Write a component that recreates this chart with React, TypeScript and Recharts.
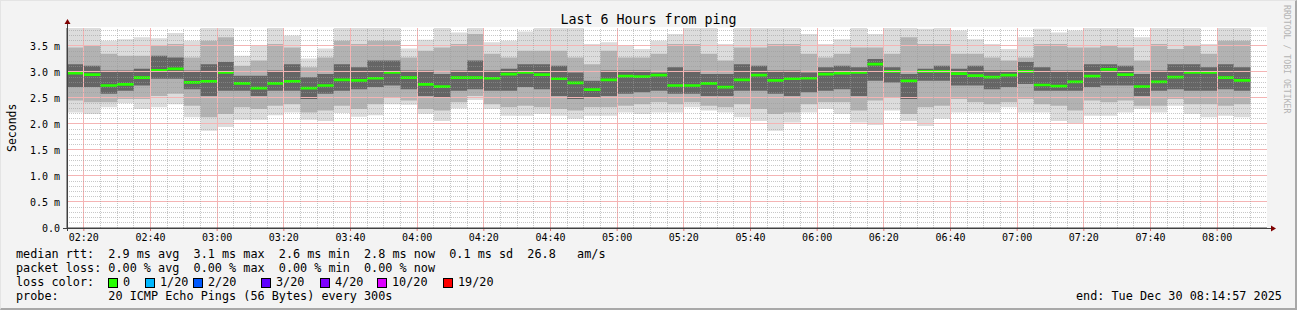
import React from 'react';
import { ComposedChart, Area, XAxis, YAxis, ReferenceLine } from 'recharts';

// ---- time layout (minutes after midnight) ----
const FIRST_SLOT = 135; // 02:15, first 5-minute step
const SLOT = 5;
const X_START = 134.95; // 02:14:57
const X_END = 494.95; // 08:14:57
const Y_MAX = 3.846; // ms

// ---- per-step values, ms (71 steps of 5 minutes) ----
const maxPing = [
  3.90, 3.90, 3.60, 3.63, 3.67, 3.65, 3.75, 3.60, 3.90, 3.90,
  3.31, 3.52, 3.90, 3.70, 3.26, 3.45, 3.90, 3.90, 3.90, 3.90,
  3.45, 3.62, 3.90, 3.76, 3.90, 3.57, 3.60, 3.78, 3.90, 3.90,
  3.90, 3.54, 3.57, 3.51, 3.44, 3.60, 3.73, 3.90, 3.90, 3.54,
  3.90, 3.90, 3.90, 3.90, 3.73, 3.54, 3.63, 3.90, 3.73, 3.90,
  3.90, 3.83, 3.90, 3.80, 3.63, 3.54, 3.44, 3.67, 3.83, 3.76,
  3.80, 3.90, 3.90, 3.90, 3.67, 3.90, 3.90, 3.90, 3.54, 3.90,
  3.90,
];
const hiMid = [
  3.47, 3.51, 3.35, 3.31, 3.31, 3.51, 3.54, 3.28, 3.60, 3.67,
  3.12, 3.22, 3.54, 3.47, 3.09, 3.28, 3.60, 3.54, 3.60, 3.60,
  3.28, 3.41, 3.47, 3.54, 3.73, 3.35, 3.28, 3.41, 3.41, 3.41,
  3.28, 3.15, 3.41, 3.28, 3.28, 3.35, 3.54, 3.54, 3.35, 3.22,
  3.47, 3.47, 3.54, 3.54, 3.35, 3.28, 3.35, 3.47, 3.47, 3.35,
  3.67, 3.54, 3.54, 3.35, 3.35, 3.28, 3.22, 3.28, 3.54, 3.54,
  3.47, 3.47, 3.51, 3.47, 3.22, 3.54, 3.44, 3.51, 3.35, 3.60,
  3.60,
];
const hiDark = [
  3.15, 3.12, 3.03, 3.03, 3.06, 3.31, 3.28, 3.03, 3.15, 3.19,
  2.93, 2.93, 3.03, 3.15, 2.90, 2.96, 3.15, 3.09, 3.22, 3.22,
  3.03, 3.03, 2.96, 3.03, 3.22, 3.03, 3.06, 3.15, 3.15, 3.12,
  2.99, 2.83, 3.03, 3.03, 3.03, 2.99, 3.09, 3.03, 2.96, 2.96,
  3.15, 3.12, 3.03, 3.03, 2.99, 3.09, 3.12, 3.09, 3.25, 3.09,
  2.96, 3.06, 3.12, 3.06, 3.12, 3.03, 3.03, 3.19, 3.09, 3.03,
  3.03, 3.15, 3.15, 3.12, 2.96, 3.03, 3.15, 3.15, 3.09, 3.15,
  3.09,
];
const medianRtt = [
  2.98, 2.95, 2.74, 2.76, 2.89, 3.03, 3.06, 2.80, 2.82, 2.99,
  2.78, 2.69, 2.78, 2.82, 2.69, 2.74, 2.85, 2.84, 2.88, 2.99,
  2.89, 2.76, 2.72, 2.89, 2.89, 2.88, 2.96, 2.99, 2.95, 2.87,
  2.79, 2.66, 2.85, 2.92, 2.91, 2.94, 2.74, 2.74, 2.78, 2.71,
  2.85, 2.94, 2.84, 2.87, 2.88, 2.96, 2.98, 2.99, 3.15, 3.01,
  2.83, 3.01, 3.01, 2.97, 2.93, 2.90, 2.94, 3.01, 2.75, 2.73,
  2.81, 2.92, 3.05, 2.95, 2.72, 2.81, 2.90, 2.99, 2.99, 2.89,
  2.84,
];
const loDark = [
  2.71, 2.71, 2.58, 2.64, 2.74, 2.87, 2.87, 2.67, 2.54, 2.64,
  2.64, 2.54, 2.64, 2.64, 2.48, 2.58, 2.64, 2.67, 2.71, 2.74,
  2.67, 2.54, 2.51, 2.64, 2.67, 2.64, 2.64, 2.71, 2.67, 2.54,
  2.48, 2.51, 2.54, 2.58, 2.61, 2.64, 2.58, 2.58, 2.54, 2.54,
  2.64, 2.64, 2.58, 2.54, 2.61, 2.64, 2.67, 2.54, 2.83, 2.80,
  2.48, 2.83, 2.83, 2.74, 2.74, 2.67, 2.71, 2.77, 2.64, 2.64,
  2.64, 2.71, 2.74, 2.74, 2.54, 2.64, 2.67, 2.64, 2.64, 2.67,
  2.64,
];
const loMid = [
  2.45, 2.42, 2.42, 2.48, 2.48, 2.54, 2.58, 2.35, 2.13, 2.19,
  2.32, 2.29, 2.35, 2.38, 2.22, 2.26, 2.35, 2.29, 2.38, 2.51,
  2.45, 2.29, 2.26, 2.42, 2.54, 2.38, 2.32, 2.35, 2.32, 2.29,
  2.26, 2.32, 2.32, 2.35, 2.38, 2.42, 2.38, 2.42, 2.35, 2.32,
  2.38, 2.29, 2.19, 2.22, 2.38, 2.42, 2.42, 2.26, 2.45, 2.51,
  2.19, 2.32, 2.35, 2.48, 2.42, 2.38, 2.42, 2.48, 2.38, 2.35,
  2.26, 2.45, 2.42, 2.45, 2.35, 2.35, 2.48, 2.38, 2.38, 2.35,
  2.38,
];
const minPing = [
  2.22, 2.19, 2.32, 2.40, 2.29, 2.32, 2.38, 2.13, 1.87, 1.94,
  2.08, 2.08, 2.17, 2.22, 2.08, 2.06, 2.21, 2.14, 2.17, 2.38,
  2.37, 2.19, 2.06, 2.30, 2.46, 2.29, 2.16, 2.16, 2.19, 2.16,
  2.10, 2.16, 2.16, 2.22, 2.19, 2.22, 2.22, 2.32, 2.26, 2.22,
  2.13, 2.06, 1.87, 2.03, 2.22, 2.29, 2.19, 2.03, 1.98, 2.26,
  2.06, 1.96, 2.10, 2.22, 2.22, 2.22, 2.32, 2.22, 2.22, 2.06,
  2.00, 2.16, 2.16, 2.22, 2.29, 2.22, 2.35, 2.19, 2.13, 2.16,
  2.13,
];

// ---- axis ticks ----
const xTicks = [140, 160, 180, 200, 220, 240, 260, 280, 300, 320, 340, 360, 380, 400, 420, 440, 460, 480];
const xTickLabels = ['02:20', '02:40', '03:00', '03:20', '03:40', '04:00', '04:20', '04:40', '05:00', '05:20', '05:40', '06:00', '06:20', '06:40', '07:00', '07:20', '07:40', '08:00'];
const yTicks = [0, 0.5, 1.0, 1.5, 2.0, 2.5, 3.0, 3.5];
const yTickLabels = ['0.0', '0.5 m', '1.0 m', '1.5 m', '2.0 m', '2.5 m', '3.0 m', '3.5 m'];

// ---- legend ----
const titleText = 'Last 6 Hours from ping';
const legendRtt = 'median rtt:  2.9 ms avg  3.1 ms max  2.6 ms min  2.8 ms now  0.1 ms sd  26.8   am/s';
const legendLoss = 'packet loss: 0.00 % avg  0.00 % max  0.00 % min  0.00 % now';
const lossLabels = ['0', '1/20', '2/20', '3/20', '4/20', '10/20', '19/20'];
const lossColors = ['#26ff00', '#00b8ff', '#0059ff', '#5e00ff', '#7e00ff', '#dd00ff', '#ff0000'];
const lossBoxX = [108, 145, 193, 261, 320, 377, 443];
const probeText = 'probe:       20 ICMP Echo Pings (56 Bytes) every 300s';
const endText = 'end: Tue Dec 30 08:14:57 2025';

const MEDIAN_HALF = 0.026;
const mono = '"DejaVu Sans Mono", monospace';

function buildRows() {
  const rows: any[] = [];
  const n = medianRtt.length;
  for (let i = 0; i <= n; i++) {
    const k = Math.min(i, n - 1);
    rows.push({
      t: FIRST_SLOT + SLOT * i,
      outer: [minPing[k], maxPing[k]],
      mid: [loMid[k], hiMid[k]],
      core: [loDark[k], hiDark[k]],
      med: [medianRtt[k] - MEDIAN_HALF, medianRtt[k] + MEDIAN_HALF],
    });
  }
  return rows;
}

const minorY: number[] = [];
for (let i = 1; i <= 38; i++) if (i % 5 !== 0) minorY.push(i / 10);
const minorX: number[] = [];
for (let m = 140; m <= 490; m += 5) if (m % 20 !== 0) minorX.push(m);
const majorY = yTicks.slice(1);

const fmtX = (v: number) => {
  const i = xTicks.indexOf(v);
  return i >= 0 ? xTickLabels[i] : '';
};
const fmtY = (v: number) => {
  const i = yTicks.indexOf(v);
  return i >= 0 ? yTickLabels[i] : '';
};

const minorLineProps: any = {
  stroke: '#9a9a9a',
  strokeOpacity: 0.55,
  strokeDasharray: '1 1',
  strokeWidth: 1,
  shapeRendering: 'crispEdges',
  ifOverflow: 'hidden',
};
const majorLineProps: any = {
  stroke: '#f4b4b4',
  strokeOpacity: 1,
  strokeWidth: 1,
  shapeRendering: 'crispEdges',
  ifOverflow: 'hidden',
};

export default function App() {
  const rows = buildRows();
  const textStyle: React.CSSProperties = {
    position: 'absolute',
    fontFamily: mono,
    fontSize: 11.8,
    lineHeight: '14px',
    whiteSpace: 'pre',
    color: '#000',
  };
  return (
    <div
      style={{
        position: 'absolute',
        left: 0,
        top: 0,
        width: 1297,
        height: 310,
        background: '#f3f3f3',
        overflow: 'hidden',
        boxSizing: 'border-box',
        borderTop: '1px solid #e4e4e4',
        borderLeft: '1px solid #e4e4e4',
        borderRight: '2px solid #a8a8a8',
        borderBottom: '2px solid #a8a8a8',
      }}
    >
      {/* plot canvas */}
      <div style={{ position: 'absolute', left: 66, top: 26, width: 1200, height: 202, background: '#ffffff' }} />
      <div style={{ position: 'absolute', left: -1, top: -1 }}>
        <ComposedChart
          width={1297}
          height={310}
          data={rows}
          margin={{ top: 28, right: 30, bottom: 62, left: 0 }}
        >
          <XAxis
            type="number"
            dataKey="t"
            domain={[X_START, X_END]}
            allowDataOverflow
            ticks={xTicks}
            interval={0}
            tickFormatter={fmtX}
            height={20}
            tickSize={3}
            tickMargin={3}
            tickLine={{ stroke: '#e07070' }}
            axisLine={{ stroke: '#404040' }}
            tick={{ fontSize: 10, fill: '#000', fontFamily: mono }}
          />
          <YAxis
            type="number"
            domain={[0, Y_MAX]}
            allowDataOverflow
            ticks={yTicks}
            interval={0}
            tickFormatter={fmtY}
            width={67}
            tickSize={0}
            tickMargin={7}
            tickLine={false}
            axisLine={{ stroke: '#404040' }}
            tick={{ fontSize: 10, fill: '#000', fontFamily: mono }}
          />
          <Area type="stepAfter" dataKey="outer" stroke="none" fill="#dcdcdc" fillOpacity={1} dot={false} activeDot={false} isAnimationActive={false} />
          <Area type="stepAfter" dataKey="mid" stroke="none" fill="#b2b2b2" fillOpacity={1} dot={false} activeDot={false} isAnimationActive={false} />
          <Area type="stepAfter" dataKey="core" stroke="none" fill="#656565" fillOpacity={1} dot={false} activeDot={false} isAnimationActive={false} />
          <Area type="stepAfter" dataKey="med" stroke="none" fill="#26ff00" fillOpacity={1} dot={false} activeDot={false} isAnimationActive={false} />
          {majorY.map((v) => (
            <ReferenceLine key={`ry${v}`} y={v} {...majorLineProps} />
          ))}
          {xTicks.map((v) => (
            <ReferenceLine key={`rx${v}`} x={v} {...majorLineProps} />
          ))}
          {minorY.map((v) => (
            <ReferenceLine key={`hy${v}`} y={v} {...minorLineProps} />
          ))}
          {minorX.map((v) => (
            <ReferenceLine key={`hx${v}`} x={v} {...minorLineProps} />
          ))}
        </ComposedChart>
      </div>

      {/* axis extensions and arrows */}
      <svg width={1297} height={310} style={{ position: 'absolute', left: -1, top: -1, pointerEvents: 'none' }}>
        <line x1={67.5} y1={231} x2={67.5} y2={22} stroke="#404040" strokeWidth={1} />
        <line x1={63} y1={228.5} x2={1272} y2={228.5} stroke="#404040" strokeWidth={1} />
        <polygon points="64.5,24 70.5,24 67.5,19" fill="#7f0000" />
        <polygon points="1271,225.5 1271,231.5 1276,228.5" fill="#7f0000" />
      </svg>

      <div
        style={{
          position: 'absolute',
          left: -1,
          top: 11,
          width: 1297,
          textAlign: 'center',
          fontFamily: mono,
          fontSize: 13.3,
          lineHeight: '16px',
          color: '#000',
        }}
      >
        {titleText}
      </div>

      <div
        style={{
          position: 'absolute',
          left: 3,
          top: 100,
          width: 16,
          height: 54,
          writingMode: 'vertical-rl',
          transform: 'rotate(180deg)',
          fontFamily: mono,
          fontSize: 11.5,
          lineHeight: '16px',
          textAlign: 'center',
          color: '#000',
        }}
      >
        Seconds
      </div>

      <div
        style={{
          position: 'absolute',
          left: 1279,
          top: 4,
          width: 14,
          writingMode: 'vertical-rl',
          fontFamily: mono,
          fontSize: 8.2,
          lineHeight: '14px',
          color: '#b4b4b4',
          whiteSpace: 'pre',
        }}
      >
        RRDTOOL / TOBI OETIKER
      </div>

      <div style={{ ...textStyle, left: 15, top: 246 }}>{legendRtt}</div>
      <div style={{ ...textStyle, left: 15, top: 260 }}>{legendLoss}</div>
      <div style={{ ...textStyle, left: 15, top: 274 }}>loss color:</div>
      {lossLabels.map((lab, i) => (
        <React.Fragment key={lab}>
          <div
            style={{
              position: 'absolute',
              left: lossBoxX[i] - 1,
              top: 277,
              width: 8,
              height: 8,
              background: lossColors[i],
              border: '1px solid #000',
            }}
          />
          <div style={{ ...textStyle, left: lossBoxX[i] + 14, top: 274 }}>{lab}</div>
        </React.Fragment>
      ))}
      <div style={{ ...textStyle, left: 15, top: 288 }}>{probeText}</div>
      <div style={{ ...textStyle, left: 1075, top: 288 }}>{endText}</div>
    </div>
  );
}
